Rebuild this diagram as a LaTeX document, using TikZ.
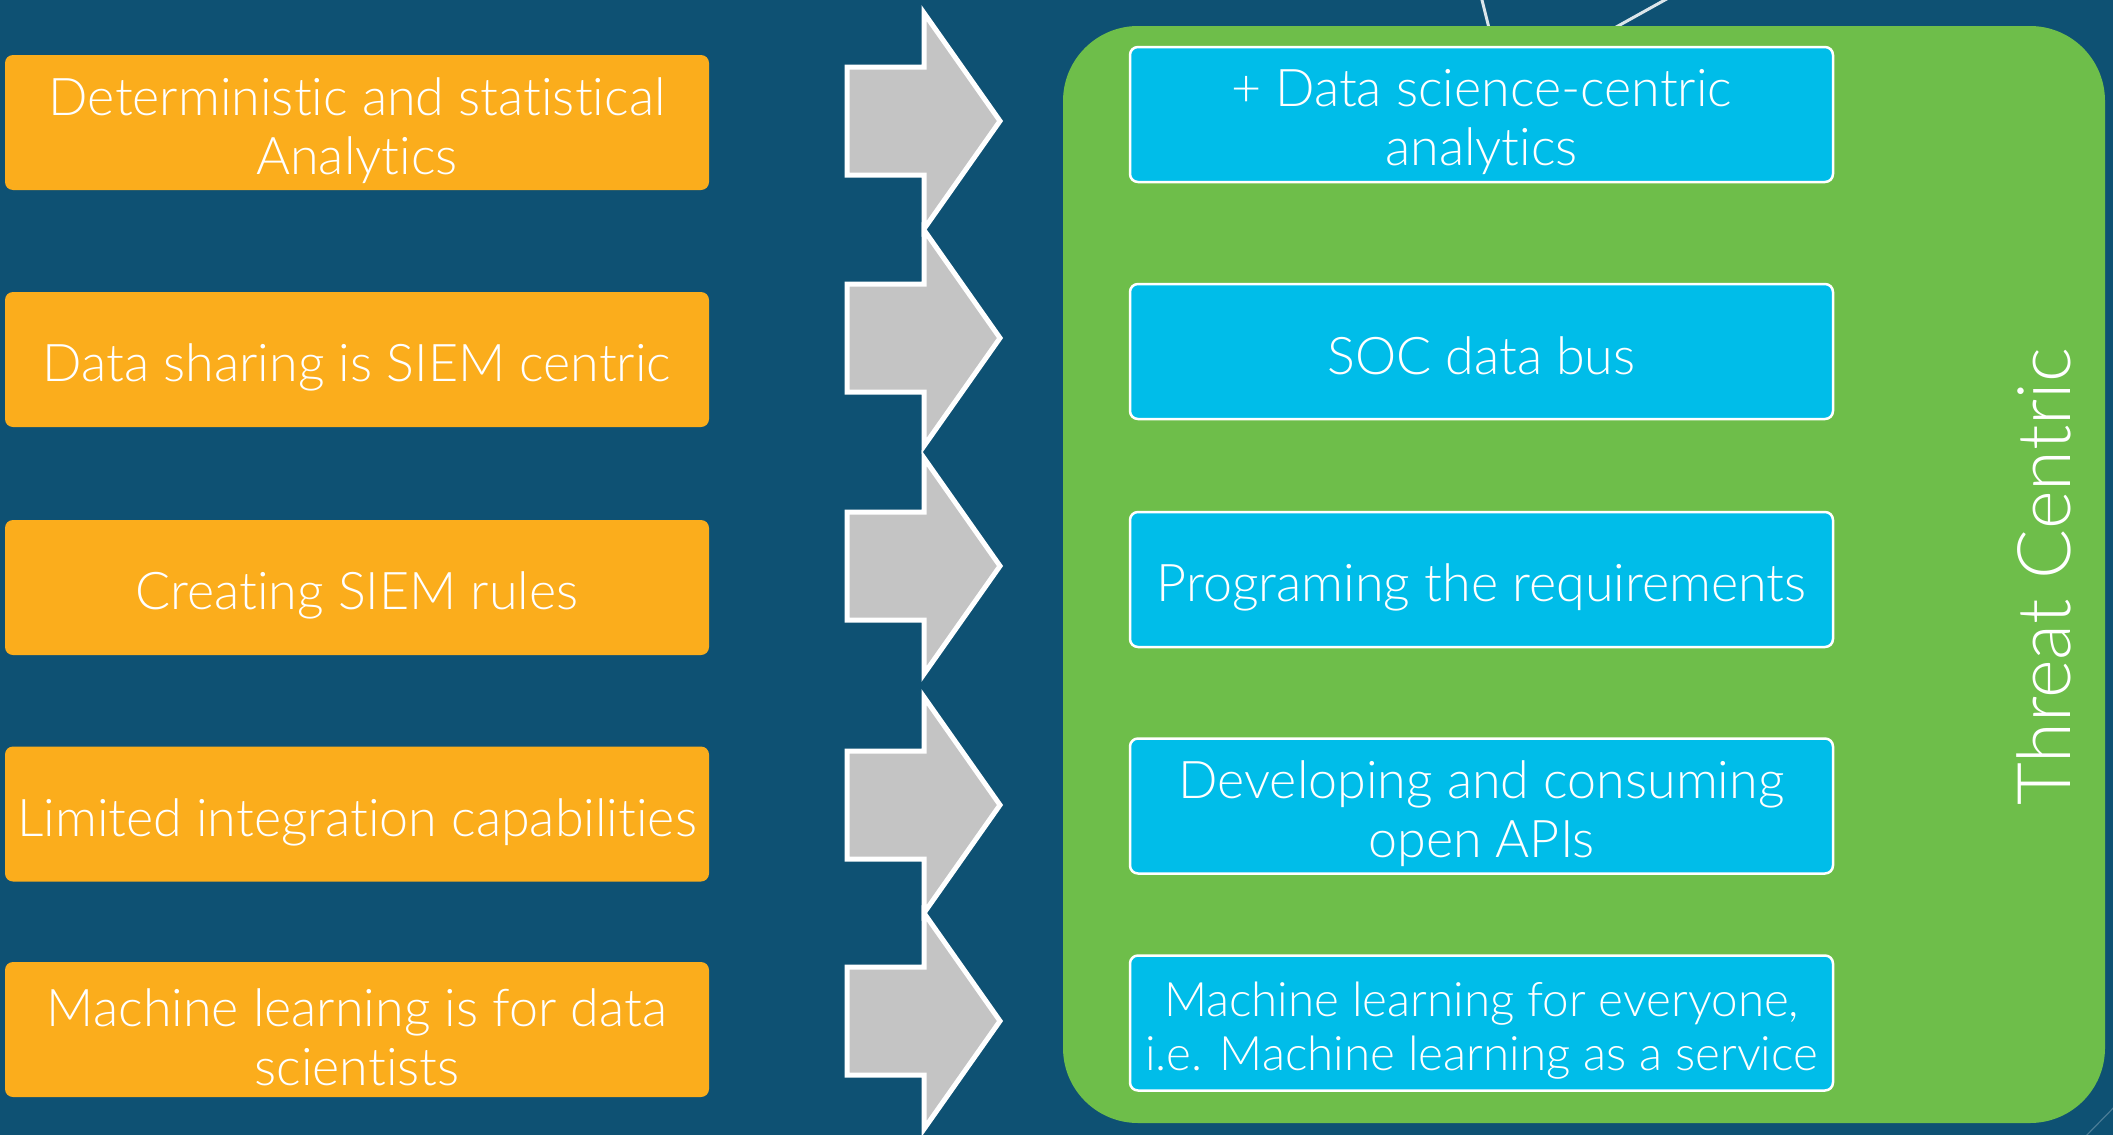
\documentclass[tikz,border=0pt]{standalone}
\usepackage{fontspec}
\IfFontExistsTF{Lato Light}
  {\setmainfont{Lato Light}[Ligatures={NoCommon}]}
  {\setmainfont{Liberation Sans}}
\definecolor{bgblue}{RGB}{14,81,115}
\definecolor{boxorange}{RGB}{251,173,28}
\definecolor{panelgreen}{RGB}{110,190,74}
\definecolor{boxcyan}{RGB}{0,189,233}
\definecolor{arrowgray}{RGB}{196,196,196}
\tikzset{
  caption/.style={text=white, align=center, inner sep=0pt, yshift=-8pt,
    font=\fontsize{52}{59}\selectfont},
  smallcaption/.style={caption, font=\fontsize{47.5}{54}\selectfont},
  oldbox/.style={fill=boxorange, rounded corners=8pt, minimum width=704pt,
    minimum height=135pt, inner sep=0pt},
  newbox/.style={fill=boxcyan, draw=white, line width=2.5pt, rounded corners=8pt,
    minimum width=703pt, minimum height=135pt, inner sep=0pt},
  blockarrow/.style={fill=arrowgray, draw=white, line width=5pt, line join=miter},
  panel/.style={fill=panelgreen, rounded corners=75pt, minimum width=1042pt,
    minimum height=1097pt, inner sep=0pt},
}
\begin{document}
\begin{tikzpicture}[x=1pt, y=-1pt]
\useasboundingbox (0,0) rectangle (2113,1135);
\fill[bgblue] (0,0) rectangle (2113,1135);

% thin light strokes behind the panel
\draw[white!85!bgblue, line width=3pt] (1481,-4) -- (1492,40);
\draw[white!85!bgblue, line width=3pt] (1672,-4) -- (1600,36);
\draw[bgblue!75!white, line width=1.2pt] (2125,1096) -- (2082,1140);

% green panel
\node[panel] (panel) at (1584,574.5) {};

% left column
\node[oldbox, label={[caption]center:{Deterministic and statistical\\Analytics}}]
  (o1) at (357,122.5) {};
\node[oldbox, label={[caption]center:{Data sharing is SIEM centric}}]
  (o2) at (357,359.5) {};
\node[oldbox, label={[caption]center:{Creating SIEM rules}}]
  (o3) at (357,587.5) {};
\node[oldbox, label={[caption]center:{Limited integration capabilities}}]
  (o4) at (357,814) {};
\node[oldbox, label={[caption]center:{Machine learning is for data\\scientists}}]
  (o5) at (357,1029.5) {};

% block arrows
\foreach \y in {121,338,566,805,1021}{
  \draw[blockarrow] (847,\y-54) -- (924,\y-54) -- (924,\y-108) -- (1000,\y)
    -- (924,\y+108) -- (924,\y+54) -- (847,\y+54) -- cycle;
}

% right column
\node[newbox, label={[caption]center:{+ Data science-centric\\analytics}}]
  (n1) at (1481.5,114.5) {};
\node[newbox, label={[caption, yshift=4pt]center:{SOC data bus}}]
  (n2) at (1481.5,351.5) {};
\node[newbox, label={[caption]center:{Programing the requirements}}]
  (n3) at (1481.5,579.5) {};
\node[newbox, label={[caption]center:{Developing and consuming\\open APIs}}]
  (n4) at (1481.5,806) {};
\node[newbox, label={[smallcaption]center:{Machine learning for everyone,\\i.e. Machine learning as a service}}]
  (n5) at (1481.5,1023) {};

\node[rotate=90, text=white, font=\fontsize{74}{80}\selectfont, inner sep=0pt]
  (label) at (2044,577) {Threat Centric};
\end{tikzpicture}
\end{document}
